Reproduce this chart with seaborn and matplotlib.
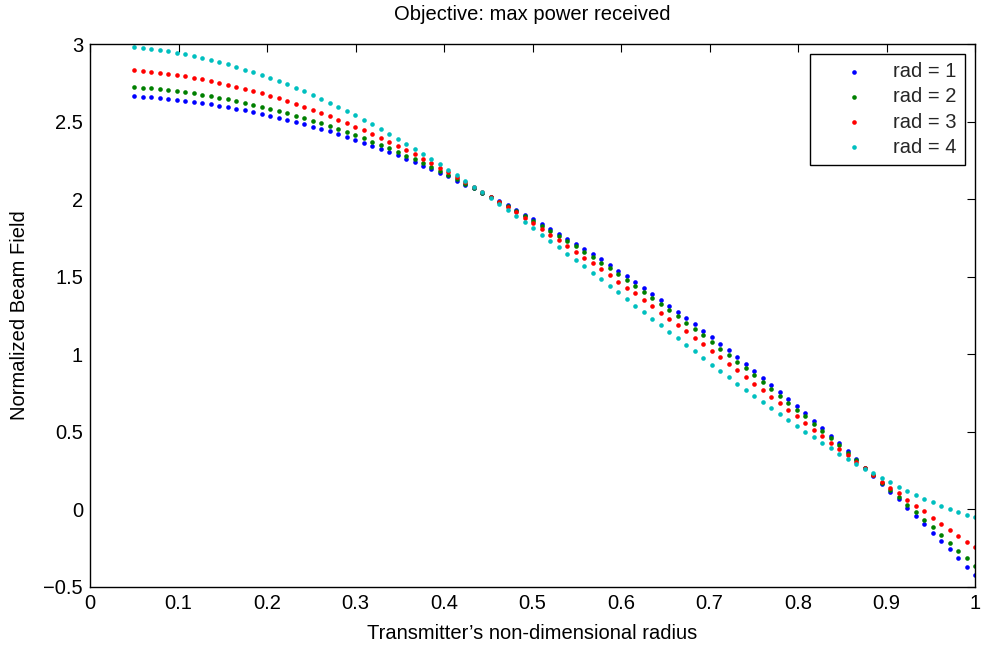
import numpy as np
import pandas as pd
import seaborn as sns
from matplotlib import pyplot as plt

# transmitter radius grid (100 samples from 0.05 to 1)
radius = np.linspace(0.05, 1.0, 100)

field_rad1 = [
    2.665, 2.661, 2.656, 2.652, 2.648, 2.641, 2.635, 2.628, 2.620, 2.611,
    2.603, 2.594, 2.583, 2.573, 2.562, 2.549, 2.536, 2.523, 2.510, 2.497,
    2.482, 2.467, 2.452, 2.437, 2.420, 2.401, 2.383, 2.364, 2.345, 2.326,
    2.304, 2.283, 2.261, 2.240, 2.216, 2.193, 2.169, 2.146, 2.120, 2.094,
    2.069, 2.041, 2.017, 1.987, 1.960, 1.930, 1.900, 1.870, 1.840, 1.810,
    1.778, 1.746, 1.713, 1.681, 1.647, 1.612, 1.576, 1.539, 1.503, 1.466,
    1.430, 1.391, 1.352, 1.314, 1.275, 1.234, 1.193, 1.152, 1.110, 1.067,
    1.026, 0.983, 0.938, 0.895, 0.850, 0.805, 0.760, 0.713, 0.665, 0.620,
    0.573, 0.524, 0.476, 0.427, 0.377, 0.328, 0.270, 0.216, 0.166, 0.115,
    0.064, 0.010, -0.043, -0.095, -0.149, -0.202, -0.258, -0.314, -0.368, -0.424,
]
field_rad2 = [
    2.723, 2.719, 2.714, 2.710, 2.704, 2.697, 2.691, 2.682, 2.674, 2.665,
    2.654, 2.643, 2.633, 2.622, 2.609, 2.596, 2.583, 2.568, 2.553, 2.538,
    2.523, 2.506, 2.489, 2.472, 2.452, 2.433, 2.414, 2.392, 2.371, 2.349,
    2.327, 2.304, 2.280, 2.257, 2.231, 2.207, 2.182, 2.154, 2.128, 2.100,
    2.070, 2.042, 2.015, 1.984, 1.956, 1.924, 1.894, 1.862, 1.830, 1.797,
    1.763, 1.731, 1.696, 1.662, 1.626, 1.591, 1.553, 1.516, 1.479, 1.441,
    1.402, 1.363, 1.325, 1.286, 1.245, 1.204, 1.164, 1.122, 1.078, 1.037,
    0.996, 0.953, 0.910, 0.867, 0.822, 0.779, 0.734, 0.689, 0.644, 0.599,
    0.552, 0.507, 0.459, 0.414, 0.365, 0.317, 0.270, 0.219, 0.172, 0.126,
    0.079, 0.030, -0.018, -0.067, -0.114, -0.166, -0.215, -0.267, -0.316, -0.363,
]
field_rad3 = [
    2.830, 2.826, 2.822, 2.815, 2.809, 2.802, 2.794, 2.783, 2.772, 2.762,
    2.751, 2.738, 2.725, 2.712, 2.697, 2.682, 2.667, 2.650, 2.633, 2.614,
    2.596, 2.577, 2.555, 2.535, 2.513, 2.491, 2.467, 2.443, 2.420, 2.396,
    2.371, 2.345, 2.317, 2.289, 2.261, 2.233, 2.203, 2.173, 2.141, 2.111,
    2.079, 2.044, 2.015, 1.983, 1.952, 1.918, 1.880, 1.845, 1.808, 1.771,
    1.735, 1.698, 1.662, 1.623, 1.587, 1.548, 1.510, 1.469, 1.430, 1.392,
    1.351, 1.310, 1.269, 1.228, 1.188, 1.147, 1.106, 1.065, 1.020, 0.980,
    0.938, 0.897, 0.854, 0.811, 0.768, 0.725, 0.685, 0.642, 0.599, 0.556,
    0.515, 0.472, 0.431, 0.391, 0.348, 0.307, 0.267, 0.222, 0.180, 0.141,
    0.103, 0.062, 0.023, -0.013, -0.054, -0.093, -0.131, -0.170, -0.207, -0.243,
]
field_rad4 = [
    2.983, 2.976, 2.970, 2.961, 2.953, 2.944, 2.933, 2.923, 2.910, 2.897,
    2.884, 2.869, 2.854, 2.835, 2.817, 2.800, 2.781, 2.762, 2.740, 2.719,
    2.695, 2.671, 2.646, 2.621, 2.594, 2.566, 2.540, 2.512, 2.482, 2.452,
    2.422, 2.390, 2.358, 2.326, 2.294, 2.259, 2.225, 2.190, 2.154, 2.117,
    2.081, 2.044, 2.008, 1.970, 1.930, 1.892, 1.851, 1.812, 1.771, 1.730,
    1.690, 1.649, 1.608, 1.567, 1.527, 1.484, 1.441, 1.400, 1.357, 1.314,
    1.271, 1.230, 1.188, 1.145, 1.104, 1.061, 1.021, 0.978, 0.934, 0.894,
    0.852, 0.811, 0.771, 0.732, 0.691, 0.652, 0.614, 0.575, 0.538, 0.502,
    0.465, 0.429, 0.394, 0.360, 0.326, 0.294, 0.263, 0.232, 0.200, 0.174,
    0.146, 0.118, 0.092, 0.068, 0.047, 0.023, 0.002, -0.015, -0.035, -0.052,
]

series_labels = ["rad = 1", "rad = 2", "rad = 3", "rad = 4"]
series_colors = ["#0000ff", "#008000", "#ff0000", "#00bfbf"]
x_ticks = [0, 0.1, 0.2, 0.3, 0.4, 0.5, 0.6, 0.7, 0.8, 0.9, 1]
y_ticks = [-0.5, 0, 0.5, 1, 1.5, 2, 2.5, 3]

sns.set_theme(style="white")
plt.rcParams['font.family'] = ['Liberation Sans', 'DejaVu Sans']
FS = 14.5

fig = plt.figure(figsize=(9.83, 6.49), dpi=100)
ax = fig.add_axes([90 / 983, 1 - 587 / 649, 885 / 983, 543 / 649])

for values, label, color in zip(
    [field_rad1, field_rad2, field_rad3, field_rad4], series_labels, series_colors
):
    df = pd.DataFrame({"radius": radius, "field": values})
    sns.scatterplot(data=df, x="radius", y="field", color=color, s=11,
                    linewidth=0, label=label, ax=ax)

ax.set_xlim(0, 1)
ax.set_ylim(-0.5, 3)
ax.set_xticks(x_ticks)
ax.set_xticklabels([f"{v:g}".replace("-", "\u2212") for v in x_ticks])
ax.set_yticks(y_ticks)
ax.set_yticklabels([f"{v:g}".replace("-", "\u2212") for v in y_ticks])
ax.tick_params(direction="in", top=True, right=True, length=5.5, width=0.8,
               labelsize=FS, pad=5, colors="black")
for sp in ax.spines.values():
    sp.set_visible(True)
    sp.set_color("black")
    sp.set_linewidth(1.0)

ax.set_xlabel("Transmitter\u2019s non-dimensional radius", fontsize=FS, color="black")
ax.set_ylabel("Normalized Beam Field", fontsize=FS, color="black")
ax.xaxis.set_label_coords(0.5, -0.068)
ax.yaxis.set_label_coords(-0.069, 0.5)
ax.set_title("Objective: max power received", fontsize=FS, color="black", pad=17)

leg = ax.legend(loc="upper right", bbox_to_anchor=((965 - 90) / 885, (587 - 54) / 543),
                borderaxespad=0, fontsize=FS, frameon=True, fancybox=False,
                handlelength=3.48, handletextpad=0.2, borderpad=0.42,
                labelspacing=0.3, markerscale=1.0)
leg.get_frame().set_edgecolor("black")
leg.get_frame().set_linewidth(1.0)
leg.get_frame().set_alpha(1)

fig.savefig("out.png", dpi=100)
